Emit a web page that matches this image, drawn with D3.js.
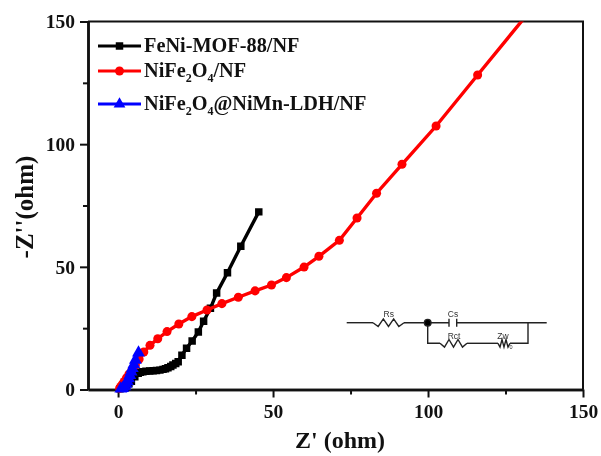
<!DOCTYPE html>
<html>
<head>
<meta charset="utf-8">
<script src="https://cdn.jsdelivr.net/npm/d3@7"></script>
<style>
  html, body { margin: 0; padding: 0; background: #fff; }
  svg { display: block; filter: blur(0.45px); }
  text { font-family: "Liberation Serif", serif; font-weight: bold; fill: #111; }
</style>
</head>
<body>
<div id="chart"></div>
<script>
// Values
const xTicks = [0, 50, 100, 150];
const yTicks = [0, 50, 100, 150];
const xMinorTicks = [25, 75, 125];
const yMinorTicks = [25, 75, 125];

const mofX = [0.6, 1.1, 1.6, 2.2, 2.8, 3.5, 4.3, 5.4, 6.5, 7.2, 8, 9, 10.2, 11.3, 12.4, 13.5, 14.5, 15.3, 16.1, 17, 17.7, 18.6, 19.4, 20.6, 22.1, 23.9, 25.9, 27.6, 29.8, 31.8, 35.3, 39.6, 45.4];
const mofY = [0.3, 0.6, 0.9, 1.3, 1.8, 2.4, 3.4, 5.2, 6.6, 7, 7.2, 7.4, 7.5, 7.6, 7.7, 7.9, 8.2, 8.5, 8.9, 9.4, 10, 10.6, 11.3, 14, 16.8, 19.8, 23.4, 27.8, 33.1, 39.3, 47.6, 58.4, 72.4];

const ferriteX = [0.5, 0.9, 1.4, 2, 2.7, 3.5, 4.5, 5.6, 6.8, 8.3, 10.3, 12.8, 15.8, 19.6, 23.8, 28.7, 33.5, 38.8, 44.2, 49.5, 54.3, 60, 64.8, 71.4, 77.1, 83.4, 91.6, 102.6, 116, 134];
const ferriteY = [0.5, 1.2, 2.2, 3.3, 4.7, 6.2, 8, 10, 12.4, 15.3, 18, 20.7, 23.6, 26.7, 29.7, 32.4, 35, 37.6, 40.2, 42.6, 45.6, 49.9, 54.3, 60.8, 69.9, 80, 91.8, 107.4, 128.2, 156];

const ldhX = [0.9, 1.5, 2.2, 2.6, 3, 3.4, 3.8, 4.2, 4.6, 5.1, 5.6, 6.6];
const ldhY = [0.3, 0.5, 1.2, 2.2, 3.3, 4.5, 5.8, 7.2, 8.6, 10.2, 12, 15];

const seriesNames = ["FeNi-MOF-88/NF", "NiFe2O4/NF", "NiFe2O4@NiMn-LDH/NF"];
const seriesColors = ["#000000", "#ff0000", "#0000ff"];

const width = 601;
const height = 456;
const margin = { top: 21.5, right: 18, bottom: 66.5, left: 88 };

const svg = d3
  .select("#chart")
  .append("svg")
  .attr("width", width)
  .attr("height", height);

// Scales
const x = d3.scaleLinear().domain([-9.7, 150]).range([margin.left, width - margin.right]);
const y = d3.scaleLinear().domain([0, 150]).range([height - margin.bottom, margin.top]);

svg
  .append("defs")
  .append("clipPath")
  .attr("id", "plot-clip")
  .append("rect")
  .attr("x", margin.left)
  .attr("y", margin.top)
  .attr("width", width - margin.left - margin.right)
  .attr("height", height - margin.top - margin.bottom + 6);

// Frame on the top and right
svg
  .append("path")
  .attr("d", `M${margin.left},${margin.top}H${width - margin.right}V${height - margin.bottom}`)
  .attr("fill", "none")
  .attr("stroke", "#111")
  .attr("stroke-width", 2);

// Axes, major and minor ticks
function styleAxis(g) {
  g.selectAll("path").attr("stroke", "#111").attr("stroke-width", 2.5);
  g.selectAll("line").attr("stroke", "#111").attr("stroke-width", 2);
  g.selectAll("text").attr("font-size", "19.5px").attr("fill", "#111");
}

svg
  .append("g")
  .attr("transform", `translate(0,${y(0)})`)
  .call(d3.axisBottom(x).tickValues(xMinorTicks).tickSize(5).tickSizeOuter(0).tickFormat(""))
  .call(styleAxis);

svg
  .append("g")
  .attr("transform", `translate(0,${y(0)})`)
  .call(d3.axisBottom(x).tickValues(xTicks).tickSize(8).tickSizeOuter(0).tickPadding(7))
  .call(styleAxis);

svg
  .append("g")
  .attr("transform", `translate(${margin.left},0)`)
  .call(d3.axisLeft(y).tickValues(yMinorTicks).tickSize(5).tickSizeOuter(0).tickFormat(""))
  .call(styleAxis);

svg
  .append("g")
  .attr("transform", `translate(${margin.left},0)`)
  .call(d3.axisLeft(y).tickValues(yTicks).tickSize(8).tickSizeOuter(0).tickPadding(5))
  .call(styleAxis);

// Axis titles
svg
  .append("text")
  .attr("x", 340)
  .attr("y", 448)
  .attr("text-anchor", "middle")
  .attr("font-size", "24px")
  .text("Z' (ohm)");

svg
  .append("text")
  .attr("transform", "translate(33,207) rotate(-90)")
  .attr("text-anchor", "middle")
  .attr("font-size", "25px")
  .text("-Z''(ohm)");

// Series
const markers = [d3.symbolSquare, d3.symbolCircle, d3.symbolTriangle];
const markerAreas = [56, 64, 72];
const seriesData = [
  d3.zip(mofX, mofY),
  d3.zip(ferriteX, ferriteY),
  d3.zip(ldhX, ldhY),
];
const line = d3.line().x((d) => x(d[0])).y((d) => y(d[1]));

const plot = svg.append("g").attr("clip-path", "url(#plot-clip)");

seriesData.forEach((points, i) => {
  plot
    .append("path")
    .datum(points)
    .attr("d", line)
    .attr("fill", "none")
    .attr("stroke", seriesColors[i])
    .attr("stroke-width", 3.4);

  plot
    .append("g")
    .selectAll("path")
    .data(points)
    .join("path")
    .attr("transform", (d) => `translate(${x(d[0])},${y(d[1])})`)
    .attr("d", d3.symbol().type(markers[i]).size(markerAreas[i]))
    .attr("fill", seriesColors[i]);
});

// Legend
const legendRows = [46, 71, 104];
seriesNames.forEach((name, i) => {
  const row = svg.append("g").attr("transform", `translate(98,${legendRows[i]})`);

  row
    .append("line")
    .attr("x1", 0)
    .attr("x2", 43)
    .attr("stroke", seriesColors[i])
    .attr("stroke-width", 3);

  row
    .append("path")
    .attr("transform", "translate(21.5,0)")
    .attr("d", d3.symbol().type(markers[i]).size(i === 2 ? 60 : markerAreas[i]))
    .attr("fill", seriesColors[i]);

  // Digits after Fe and O are subscripts
  const label = row
    .append("text")
    .attr("x", 46)
    .attr("y", 6)
    .attr("font-size", "20.3px");

  name.split(/(?<=Fe)(2)|(?<=O)(4)/).filter(Boolean).forEach((part) => {
    if (part === "2" || part === "4") {
      label.append("tspan").attr("dy", 5).attr("font-size", "12px").text(part);
    } else {
      const prevSub = label.selectAll("tspan").size() > 0;
      label.append("tspan").attr("dy", prevSub ? -5 : 0).text(part);
    }
  });
});

// Equivalent circuit inset
const circuit = svg
  .append("g")
  .attr("fill", "none")
  .attr("stroke", "#222")
  .attr("stroke-width", 1.4);

const wireY = 322.7;
const lowerY = 343.3;
const zigzag = (x0, x1, yc) => {
  const step = (x1 - x0) / 6;
  let d = `M${x0},${yc}`;
  [1, -1, 1, -1, 1].forEach((s, k) => {
    d += `L${x0 + step * (k + 1)},${yc + s * 3.8}`;
  });
  return d + `L${x1},${yc}`;
};

circuit.append("path").attr("d", `M346.7,${wireY}H373`);
circuit.append("path").attr("d", zigzag(373, 404, wireY));
circuit.append("path").attr("d", `M404,${wireY}H449M449,${wireY - 4}V${wireY + 4}`);
circuit.append("path").attr("d", `M456.7,${wireY - 4}V${wireY + 4}M456.7,${wireY}H546.7`);
circuit.append("path").attr("d", `M427.7,${wireY}V${lowerY}H440`);
circuit.append("path").attr("d", zigzag(440, 467, lowerY));
circuit.append("path").attr("d", `M467,${lowerY}H498`);
circuit.append("path").attr("d", zigzag(498, 510, lowerY));
circuit.append("path").attr("d", `M510,${lowerY}H528V${wireY}`);
circuit.append("circle").attr("cx", 427.7).attr("cy", wireY).attr("r", 3.3).attr("fill", "#000");

const circuitLabels = [["Rs", 388.7, 317], ["Cs", 453, 317], ["Rct", 454, 338.5], ["Zw", 503, 338.5], ["0", 511, 349]];
svg
  .append("g")
  .selectAll("text")
  .data(circuitLabels)
  .join("text")
  .attr("x", (d) => d[1])
  .attr("y", (d) => d[2])
  .attr("text-anchor", "middle")
  .attr("font-size", (d) => (d[0] === "0" ? "5.5px" : "8.5px"))
  .style("font-family", "'Liberation Sans', sans-serif")
  .style("font-weight", "normal")
  .style("fill", "#333")
  .text((d) => d[0]);
</script>
</body>
</html>
